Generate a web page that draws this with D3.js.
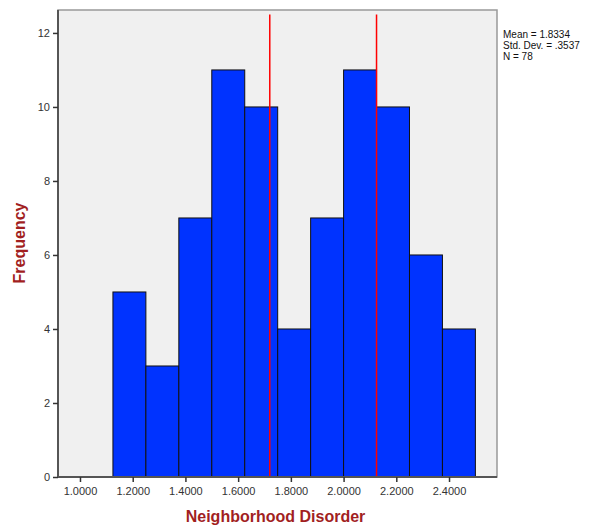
<!DOCTYPE html>
<html>
<head>
<meta charset="utf-8">
<script src="https://cdn.jsdelivr.net/npm/d3@7"></script>
<style>
body { margin: 0; background: #fff; }
text { font-family: "Liberation Sans", Arial, sans-serif; }
</style>
</head>
<body>
<script>
// histogram data: bin edges (start) and frequencies
var binStarts = [1.125, 1.25, 1.375, 1.5, 1.625, 1.75, 1.875, 2.0, 2.125, 2.25, 2.375];
var binWidth = 0.125;
var counts = [5, 3, 7, 11, 10, 4, 7, 11, 10, 6, 4];
var xTicks = [1.0, 1.2, 1.4, 1.6, 1.8, 2.0, 2.2, 2.4];
var yTicks = [0, 2, 4, 6, 8, 10, 12];
var refLines = [1.72, 2.125];
var stats = ["Mean = 1.8334", "Std. Dev. = .3537", "N = 78"];

var margin = {top: 10, right: 93, bottom: 50, left: 58},
    width = 590 - margin.left - margin.right,
    height = 527 - margin.top - margin.bottom;

var x = d3.scaleLinear().domain([0.9166, 2.582]).range([0, width]);
var y = d3.scaleLinear().domain([0, 12.62]).range([height, 0]);

var svg = d3.select("body").append("svg")
    .attr("width", 590)
    .attr("height", 527)
  .append("g")
    .attr("transform", "translate(" + margin.left + "," + margin.top + ")");

// plot background
svg.append("rect")
    .attr("width", width)
    .attr("height", height)
    .attr("fill", "#f0f0f0")
    .attr("stroke", "#999")
    .attr("stroke-width", 1.5);

// bars
svg.selectAll(".bar")
    .data(binStarts)
  .enter().append("rect")
    .attr("class", "bar")
    .attr("x", function(d) { return x(d); })
    .attr("y", function(d, i) { return y(counts[i]); })
    .attr("width", function(d) { return x(d + binWidth) - x(d); })
    .attr("height", function(d, i) { return y(0) - y(counts[i]); })
    .attr("fill", "#0033ff")
    .attr("stroke", "#111")
    .attr("stroke-width", 1);

// red reference lines
svg.selectAll(".ref")
    .data(refLines)
  .enter().append("line")
    .attr("x1", function(d) { return x(d); })
    .attr("x2", function(d) { return x(d); })
    .attr("y1", y(12.5))
    .attr("y2", y(0))
    .attr("stroke", "#ff0000")
    .attr("stroke-width", 1.5);

// x axis
var xAxis = svg.append("g")
    .attr("transform", "translate(0," + height + ")")
    .call(d3.axisBottom(x).tickValues(xTicks).tickFormat(d3.format(".4f")).tickSize(5).tickSizeOuter(0));

// y axis
var yAxis = svg.append("g")
    .call(d3.axisLeft(y).tickValues(yTicks).tickSize(5).tickSizeOuter(0));

[xAxis, yAxis].forEach(function(a) {
    a.select(".domain").attr("stroke", "#555").attr("stroke-width", 2);
    a.selectAll(".tick line").attr("stroke", "#333").attr("stroke-width", 1.5);
    a.selectAll(".tick text").attr("fill", "#333").style("font-size", "11px");
});
xAxis.select(".domain").attr("d", "M0,0H" + width);
yAxis.select(".domain").attr("d", "M0,0V" + height);
xAxis.selectAll(".tick text").attr("dy", "0.9em");

// axis titles
svg.append("text")
    .attr("x", width / 2 - 2)
    .attr("y", height + 45)
    .attr("text-anchor", "middle")
    .attr("fill", "#a21f1f")
    .style("font-size", "16px")
    .style("font-weight", "bold")
    .text("Neighborhood Disorder");

svg.append("text")
    .attr("transform", "rotate(-90)")
    .attr("x", 0 - 233)
    .attr("y", -33)
    .attr("text-anchor", "middle")
    .attr("fill", "#a21f1f")
    .style("font-size", "16px")
    .style("font-weight", "bold")
    .text("Frequency");

// stats box text
svg.append("g").selectAll("text")
    .data(stats)
  .enter().append("text")
    .attr("x", width + 6)
    .attr("y", function(d, i) { return 28 + i * 11; })
    .attr("fill", "#111")
    .style("font-size", "10px")
    .text(function(d) { return d; });
</script>
</body>
</html>
